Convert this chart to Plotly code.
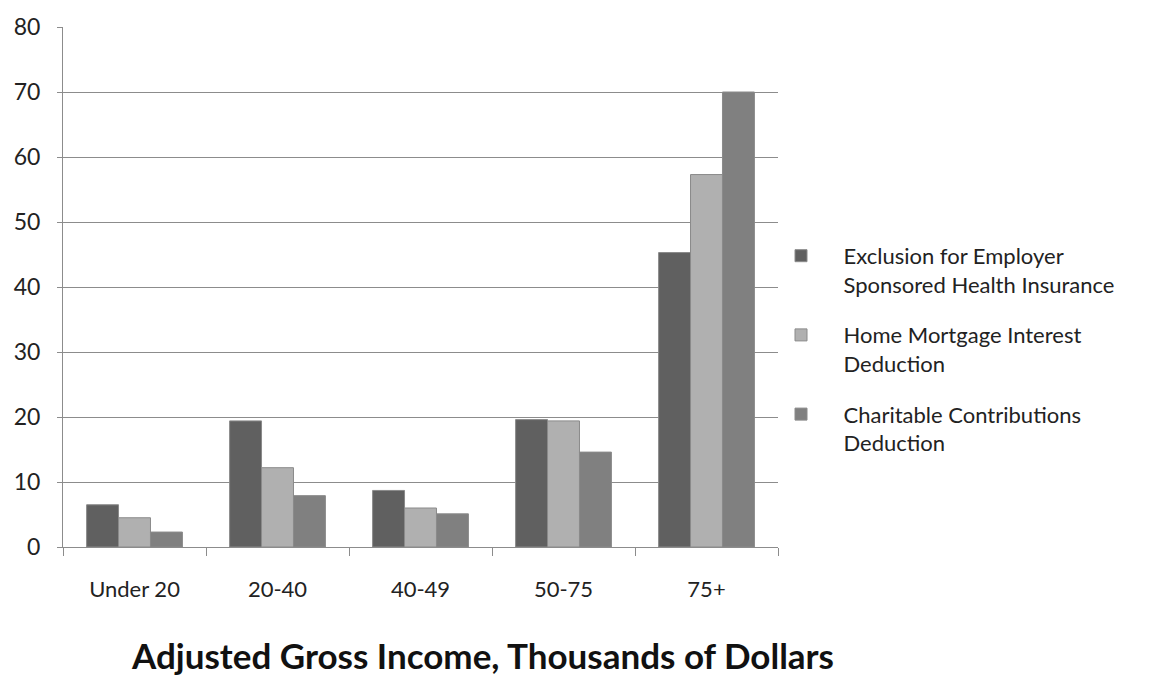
import plotly.graph_objects as go

categories = ["Under 20", "20-40", "40-49", "50-75", "75+"]
series_names = [
    "Exclusion for Employer<br>Sponsored Health Insurance",
    "Home Mortgage Interest<br>Deduction",
    "Charitable Contributions<br>Deduction",
]
employer_health = [6.5, 19.4, 8.7, 19.6, 45.3]
mortgage_interest = [4.5, 12.2, 6.0, 19.4, 57.3]
charitable = [2.3, 7.9, 5.1, 14.6, 70.0]
colors = ["#606060", "#b0b0b0", "#808080"]
y_ticks = [0, 10, 20, 30, 40, 50, 60, 70, 80]

FONT = "Lato, Open Sans, sans-serif"
PAD = "\u00a0" * 4


def pad_name(n):
    return "<br>".join(PAD + part for part in n.split("<br>"))


fig = go.Figure()
for i, (name, vals, col) in enumerate(zip(series_names, [employer_health, mortgage_interest, charitable], colors)):
    fig.add_trace(go.Bar(
        x=categories, y=vals, name=pad_name(name), legendgroup=f"g{i}",
        marker=dict(color=col, line=dict(color="#8a8a8a", width=1)),
    ))

fig.update_layout(
    width=1149, height=675,
    margin=dict(l=63, r=371, t=21, b=128),
    paper_bgcolor="white", plot_bgcolor="white",
    barmode="group", bargap=0.33, bargroupgap=0,
    font=dict(family=FONT, color="#222222"),
    legend=dict(
        x=(781 - 63) / 715, y=0.38, xanchor="left", yanchor="middle",
        font=dict(size=22, family=FONT, color="#222222"),
        tracegroupgap=19, valign="top", itemwidth=30,
    ),
    showlegend=True,
)
fig.update_yaxes(
    range=[0, 80], tickvals=y_ticks,
    showgrid=True, gridcolor="#8c8c8c", gridwidth=1,
    showline=True, linecolor="#8c8c8c", linewidth=1,
    ticks="outside", ticklen=5, tickcolor="#8c8c8c",
    tickfont=dict(size=23, family=FONT, color="#222222"),
    ticklabelstandoff=12,
    zeroline=False,
)
fig.update_xaxes(
    showline=True, linecolor="#8c8c8c", linewidth=1,
    ticks="outside", ticklen=8, tickcolor="#8c8c8c", tickson="boundaries",
    tickfont=dict(size=22, family=FONT, color="#222222"),
    ticklabelstandoff=23,
)
fig.add_annotation(
    text="<b>Adjusted Gross Income, Thousands of Dollars</b>",
    xref="paper", yref="paper", x=(482 - 63) / 715, y=-0.207,
    xanchor="center", yanchor="middle", showarrow=False,
    font=dict(size=35, family=FONT, color="#111111"),
)

fig.write_html("out.html")
